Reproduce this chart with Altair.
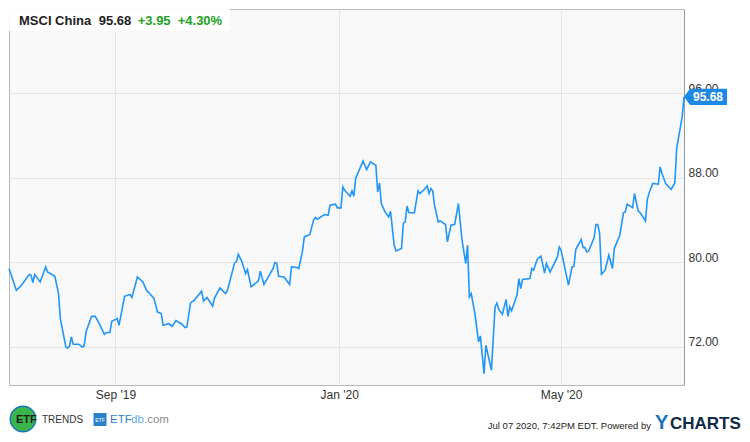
import altair as alt
import pandas as pd

# ---------------- data ----------------
dates = [
    "2019-07-05", "2019-07-09", "2019-07-11", "2019-07-12", "2019-07-16", "2019-07-17",
    "2019-07-18", "2019-07-19", "2019-07-22", "2019-07-25", "2019-07-26", "2019-07-30",
    "2019-08-01", "2019-08-02", "2019-08-05", "2019-08-06", "2019-08-07", "2019-08-08",
    "2019-08-09", "2019-08-12", "2019-08-14", "2019-08-15", "2019-08-16", "2019-08-19",
    "2019-08-21", "2019-08-23", "2019-08-26", "2019-08-27", "2019-08-29", "2019-08-30",
    "2019-09-02", "2019-09-03", "2019-09-06", "2019-09-09", "2019-09-10", "2019-09-13",
    "2019-09-16", "2019-09-18", "2019-09-19", "2019-09-22", "2019-09-24", "2019-09-26",
    "2019-09-27", "2019-09-30", "2019-10-02", "2019-10-04", "2019-10-07", "2019-10-09",
    "2019-10-10", "2019-10-12", "2019-10-14", "2019-10-18", "2019-10-19", "2019-10-21",
    "2019-10-24", "2019-10-25", "2019-10-28", "2019-10-31", "2019-11-01", "2019-11-05",
    "2019-11-06", "2019-11-07", "2019-11-09", "2019-11-11", "2019-11-12", "2019-11-14",
    "2019-11-18", "2019-11-19", "2019-11-21", "2019-11-26", "2019-11-27", "2019-11-28",
    "2019-11-29", "2019-12-02", "2019-12-05", "2019-12-06", "2019-12-09", "2019-12-10",
    "2019-12-12", "2019-12-13", "2019-12-16", "2019-12-18", "2019-12-19", "2019-12-20",
    "2019-12-24", "2019-12-26", "2019-12-27", "2019-12-30", "2019-12-31", "2020-01-02",
    "2020-01-03", "2020-01-04", "2020-01-07", "2020-01-08", "2020-01-09", "2020-01-10",
    "2020-01-14", "2020-01-16", "2020-01-18", "2020-01-21", "2020-01-22", "2020-01-23",
    "2020-01-24", "2020-01-26", "2020-01-28", "2020-01-29", "2020-01-31", "2020-02-01",
    "2020-02-04", "2020-02-05", "2020-02-06", "2020-02-07", "2020-02-08", "2020-02-11",
    "2020-02-13", "2020-02-14", "2020-02-16", "2020-02-18", "2020-02-19", "2020-02-20",
    "2020-02-21", "2020-02-22", "2020-02-24", "2020-02-25", "2020-02-28", "2020-02-29",
    "2020-03-02", "2020-03-04", "2020-03-06", "2020-03-07", "2020-03-08", "2020-03-10",
    "2020-03-11", "2020-03-12", "2020-03-13", "2020-03-15", "2020-03-17", "2020-03-18",
    "2020-03-20", "2020-03-21", "2020-03-24", "2020-03-26", "2020-03-27", "2020-03-28",
    "2020-03-30", "2020-04-01", "2020-04-02", "2020-04-03", "2020-04-04", "2020-04-07",
    "2020-04-08", "2020-04-09", "2020-04-10", "2020-04-14", "2020-04-15", "2020-04-16",
    "2020-04-18", "2020-04-20", "2020-04-22", "2020-04-23", "2020-04-25", "2020-04-29",
    "2020-04-30", "2020-05-01", "2020-05-05", "2020-05-07", "2020-05-08", "2020-05-09",
    "2020-05-12", "2020-05-13", "2020-05-14", "2020-05-15", "2020-05-16", "2020-05-19",
    "2020-05-20", "2020-05-21", "2020-05-22", "2020-05-23", "2020-05-25", "2020-05-27",
    "2020-05-29", "2020-05-30", "2020-06-02", "2020-06-04", "2020-06-05", "2020-06-06",
    "2020-06-09", "2020-06-10", "2020-06-12", "2020-06-13", "2020-06-16", "2020-06-17",
    "2020-06-18", "2020-06-20", "2020-06-23", "2020-06-24", "2020-06-25", "2020-06-27",
    "2020-06-30", "2020-07-02", "2020-07-03", "2020-07-06", "2020-07-07",
]

values = [
    79.43, 77.37, 77.69, 77.90, 78.86, 78.80,
    78.10, 78.86, 78.16, 79.58, 79.10, 78.70,
    77.06, 74.69, 72.00, 71.90, 72.07, 72.95,
    72.26, 72.26, 72.00, 72.10, 73.43, 74.90,
    74.90, 74.28, 73.20, 73.37, 73.37, 74.43,
    74.69, 74.06, 76.80, 76.97, 76.68, 78.63,
    78.16, 77.37, 77.20, 76.60, 75.30, 75.17,
    74.06, 74.20, 73.96, 74.50, 74.20, 73.84,
    73.90, 76.17, 76.43, 77.28, 76.36, 76.68,
    75.86, 76.60, 77.60, 77.06, 77.30, 79.96,
    80.06, 80.78, 80.06, 78.96, 79.33, 77.69,
    78.26, 79.17, 77.91, 79.43, 80.00, 79.90,
    78.70, 78.63, 77.91, 79.58, 79.52, 79.43,
    81.07, 82.42, 82.65, 84.00, 84.26, 84.10,
    84.54, 84.47, 85.42, 85.52, 85.17, 85.17,
    87.16, 86.84, 86.27, 86.78, 86.27, 87.95,
    89.60, 88.80, 89.52, 89.20, 86.68, 87.53,
    85.58, 84.79, 84.31, 84.85, 81.63, 81.09,
    81.32, 83.69, 83.84, 85.33, 84.73, 84.70,
    86.78, 86.53, 86.84, 87.25, 86.53, 87.00,
    86.78, 85.42, 83.84, 83.94, 83.60, 81.95,
    83.53, 83.62, 85.58, 83.84, 82.11, 79.90,
    81.63, 76.74, 77.06, 75.17, 72.48, 73.05,
    69.48, 72.16, 69.80, 75.80, 76.17, 75.55,
    75.10, 76.50, 74.90, 75.80, 75.42, 76.97,
    78.48, 77.53, 78.39, 78.48, 79.43, 79.27,
    80.31, 80.60, 79.00, 79.90, 79.10, 80.53,
    81.47, 81.16, 77.85, 79.58, 79.64, 81.22,
    82.17, 81.41, 81.41, 81.00, 81.07, 82.36,
    83.60, 83.60, 82.74, 78.89, 79.27, 80.69,
    79.43, 81.32, 82.58, 84.70, 84.79, 85.52,
    85.20, 86.53, 84.88, 84.73, 83.94, 85.96,
    86.59, 87.48, 87.41, 89.05, 88.42, 87.48,
    86.91, 87.53, 90.79, 93.78, 95.68,
]

y_ticks = [72, 80, 88, 96]
x_tick_dates = [(2019, 9, 1), (2020, 1, 1), (2020, 5, 1)]
title_name = "MSCI China"
title_last = "95.68"
title_change = "+3.95"
title_pct = "+4.30%"
footer_stamp = "Jul 07 2020, 7:42PM EDT.  Powered by"

# ---------------- chart ----------------
df = pd.DataFrame({"date": dates, "value": values})
last_df = pd.DataFrame({"value": [values[-1]]})

W, H = 675, 376
FONT = "Liberation Sans"
LINE = "#2196F3"
GREEN = "#21a121"

x_enc = alt.X(
    "date:T",
    scale=alt.Scale(
        type="utc",
        domain=[alt.DateTime(year=2019, month=7, date=5, utc=True),
                alt.DateTime(year=2020, month=7, date=7, utc=True)],
        nice=False,
    ),
    axis=alt.Axis(
        title=None,
        values=[alt.DateTime(year=y, month=m, date=d, utc=True) for y, m, d in x_tick_dates],
        labelExpr="utcFormat(datum.value, \"%b '%y\")",
        grid=True,
        gridColor="#e4e4e4",
        domain=False,
        ticks=False,
        tickSize=0,
        labelPadding=4,
        labelFontSize=12,
        labelFont=FONT,
        labelColor="#333333",
    ),
)

y_enc = alt.Y(
    "value:Q",
    scale=alt.Scale(domain=[68.4, 104.0], nice=False, zero=False),
    axis=alt.Axis(
        title=None,
        orient="right",
        values=y_ticks,
        format=".2f",
        grid=True,
        gridColor="#e4e4e4",
        domain=True,
        domainColor="#9a9a9a",
        ticks=False,
        tickSize=0,
        labelPadding=4,
        labelBaseline="alphabetic",
        labelOffset=-1,
        labelFontSize=12,
        labelFont=FONT,
        labelColor="#333333",
    ),
)

line = alt.Chart(df).mark_line(color=LINE, strokeWidth=1.6, interpolate="linear").encode(
    x=x_enc, y=y_enc
)

base_one = alt.Chart(last_df)


def txt(text, x, y, size=12, color="#222222", weight="normal", align="left",
        baseline="alphabetic", font=FONT):
    return base_one.mark_text(
        text=text, fontSize=size, color=color, fontWeight=weight, align=align,
        baseline=baseline, font=font,
    ).encode(x=alt.value(x), y=alt.value(y))


# title box
title_box = base_one.mark_rect(color="white", opacity=0.9).encode(
    x=alt.value(0), x2=alt.value(221), y=alt.value(0), y2=alt.value(22)
)
t1 = txt(title_name, 10, 16, size=13, weight="bold")
t2 = txt(title_last, 89.7, 16, size=13, weight="bold")
t3 = txt(title_change, 128.7, 16, size=13, weight="bold", color=GREEN)
t4 = txt(title_pct, 168.7, 16, size=13, weight="bold", color=GREEN)

# last-value badge on the right axis
badge_path = "M -1 0 L -0.72 -0.38 L 1 -0.38 L 1 0.38 L -0.72 0.38 Z"
badge = base_one.mark_point(
    shape=badge_path, filled=True, color="#1e88e5", opacity=1, size=1849, strokeWidth=0
).encode(x=alt.value(W + 21.5), y=alt.Y("value:Q"))
badge_text = base_one.mark_text(
    color="white", fontWeight="bold", fontSize=12, font=FONT, align="center", baseline="middle"
).encode(x=alt.value(W + 24), y=alt.Y("value:Q"), text=alt.Text("value:Q", format=".2f"))

# footer logos / stamp
etf_circle = base_one.mark_point(
    shape="circle", filled=True, fill="#3ab54a", stroke="#1c75bc", strokeWidth=1.5,
    opacity=1, size=650,
).encode(x=alt.value(14), y=alt.value(410))
f_etf = txt("ETF", 7, 411, size=11, weight="bold", color="#1a1a1a", baseline="middle")
f_trends = txt("TRENDS", 33, 411, size=10, color="#333333", baseline="middle")
db_square = base_one.mark_point(
    shape="square", filled=True, color="#2a7fc9", opacity=1, size=169, strokeWidth=0
).encode(x=alt.value(91), y=alt.value(410.5))
f_small = txt("ETF", 91, 411, size=5, color="white", align="center", baseline="middle")
f_db1 = txt("ETF", 101, 411, size=11.5, color="#2a7fc9", baseline="middle")
f_db2 = txt("db", 122, 411, size=11.5, color="#5aa9e6", baseline="middle")
f_db3 = txt(".com", 135, 411, size=11.5, color="#8a8a8a", baseline="middle")
f_stamp = txt(footer_stamp, 642, 420, size=9.5, color="#222222", align="right")
f_y = txt("Y", 646, 420, size=20, weight="bold", color="#1b75bc")
f_charts = txt("CHARTS", 661, 420, size=17, weight="bold", color="#0e2a47")

chart = alt.layer(
    line, title_box, t1, t2, t3, t4, badge, badge_text,
    etf_circle, f_etf, f_trends, db_square, f_small, f_db1, f_db2, f_db3,
    f_stamp, f_y, f_charts,
).properties(
    width=W,
    height=H,
    autosize=alt.AutoSizeParams(type="none"),
    padding={"left": 1, "top": 1, "right": 58, "bottom": 49},
    background="white",
).configure_view(
    fill="#f8f8f8", stroke="#b8b8b8", strokeWidth=1
)

chart.save("out.html", embed_options={"renderer": "svg", "actions": False})
